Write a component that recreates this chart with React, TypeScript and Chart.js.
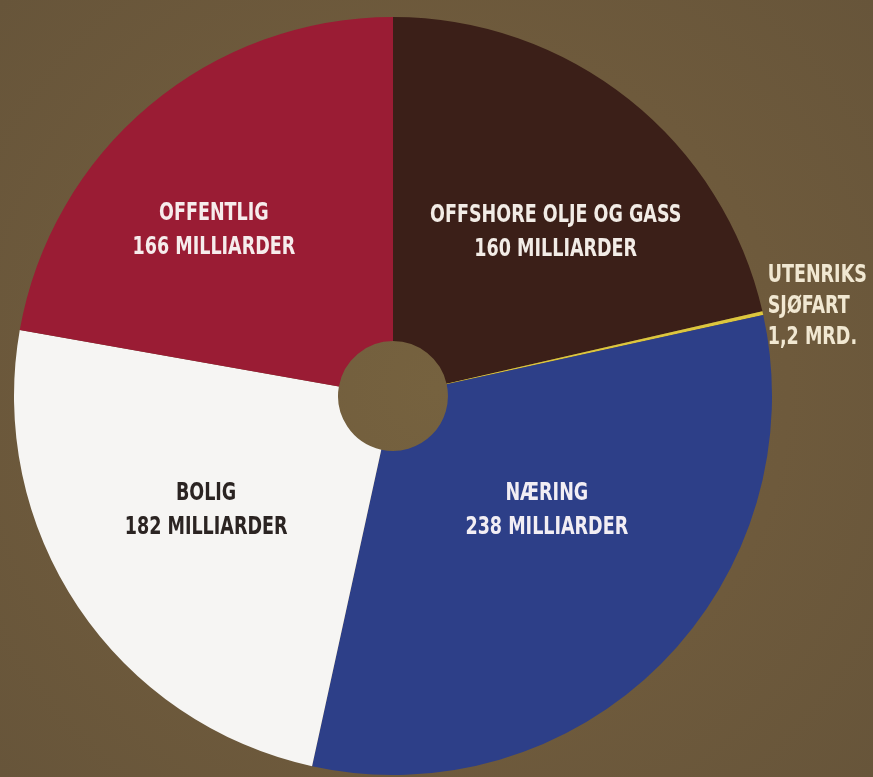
import React, { useEffect, useRef } from "react";
import { Chart, registerables } from "chart.js";

Chart.register(...registerables);

const categories = ["OFFSHORE OLJE OG GASS", "UTENRIKS SJØFART", "NÆRING", "BOLIG", "OFFENTLIG"];
const values = [160, 1.2, 238, 182, 166];
const labelLines = [
  ["OFFSHORE OLJE OG GASS", "160 MILLIARDER"],
  ["UTENRIKS", "SJØFART", "1,2 MRD."],
  ["NÆRING", "238 MILLIARDER"],
  ["BOLIG", "182 MILLIARDER"],
  ["OFFENTLIG", "166 MILLIARDER"],
];
const sliceColors = ["#3b1f18", "#dcc63e", "#2d3f88", "#f6f5f3", "#9a1c34"];
const textColors = ["#f2ece6", "#f1e8d2", "#f2eef4", "#2b2422", "#f6ecec"];
// label nudges relative to the slice centroid (px); the tiny slice label goes outside
const labelNudge = [
  [21, 14],
  [0, -6],
  [-7, -46],
  [2, -12],
  [-33, 9],
];

const labelPlugin = {
  id: "sliceLabels",
  afterDatasetsDraw(chart: any) {
    const ctx = chart.ctx as CanvasRenderingContext2D;
    const meta = chart.getDatasetMeta(0);
    meta.data.forEach((arc: any, i: number) => {
      const { x, y, startAngle, endAngle, outerRadius } = arc.getProps(
        ["x", "y", "startAngle", "endAngle", "outerRadius"],
        true
      );
      const mid = (startAngle + endAngle) / 2;
      const outside = values[i] < 5;
      const r = outside ? outerRadius + 5 : outerRadius * 0.6;
      const px = x + Math.cos(mid) * r + labelNudge[i][0];
      const py = y + Math.sin(mid) * r + labelNudge[i][1];
      const lines = labelLines[i];
      const lh = outside ? 31 : 34;
      ctx.save();
      ctx.fillStyle = textColors[i];
      ctx.font = "bold 25px 'DejaVu Sans Condensed', 'DejaVu Sans', sans-serif";
      ctx.textBaseline = "middle";
      ctx.textAlign = outside ? "left" : "center";
      const sx = 0.78;
      lines.forEach((t, k) => {
        const ly = py + (k - (lines.length - 1) / 2) * lh;
        ctx.save();
        ctx.translate(px, ly);
        ctx.scale(sx, 1);
        ctx.fillText(t, 0, 0);
        ctx.restore();
      });
      ctx.restore();
    });
  },
};

export default function App() {
  const ref = useRef<HTMLCanvasElement | null>(null);
  useEffect(() => {
    if (!ref.current) return;
    const chart = new Chart(ref.current, {
      type: "doughnut",
      data: {
        labels: categories,
        datasets: [
          {
            data: values,
            backgroundColor: sliceColors,
            borderWidth: 0,
          },
        ],
      },
      options: {
        responsive: false,
        animation: false,
        cutout: "14.5%",
        layout: { padding: { left: 14, right: 101, top: 17, bottom: 2 } },
        plugins: {
          legend: { display: false },
          tooltip: { enabled: false },
        },
      },
      plugins: [labelPlugin],
    });
    return () => chart.destroy();
  }, []);
  return (
    <div
      style={{
        position: "fixed",
        left: 0,
        top: 0,
        width: 873,
        height: 777,
        background: "radial-gradient(circle at 50% 50%, #76623f 0%, #6e5a3c 60%, #67553a 100%)",
      }}
    >
      <canvas ref={ref} width={873} height={777} />
    </div>
  );
}
